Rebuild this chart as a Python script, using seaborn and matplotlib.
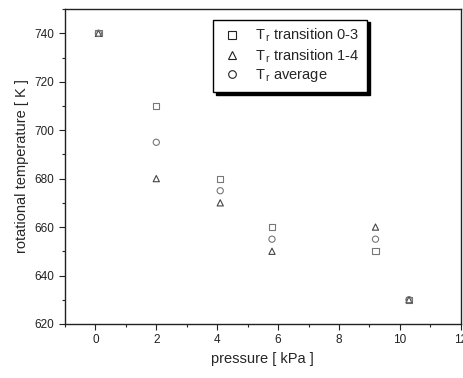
import numpy as np
import pandas as pd
import matplotlib
matplotlib.use("Agg")
import matplotlib.pyplot as plt
import seaborn as sns
from matplotlib.ticker import MultipleLocator

pressure = [0.1, 2.0, 4.1, 5.8, 9.2, 10.3]
t_transition_03 = [740, 710, 680, 660, 650, 630]
t_transition_14 = [740, 680, 670, 650, 660, 630]
t_average = [740, 695, 675, 655, 655, 630]

series_labels = [
    r"T$_{\,r}$ transition 0-3",
    r"T$_{\,r}$ transition 1-4",
    r"T$_{\,r}$ average",
]
series_values = [t_transition_03, t_transition_14, t_average]
series_markers = ["s", "^", "o"]
series_edges = ["#777777", "#444444", "#777777"]

sns.set_theme(style="ticks")
plt.rcParams["font.family"] = ["Liberation Sans", "DejaVu Sans"]
plt.rcParams["mathtext.fontset"] = "custom"
plt.rcParams["mathtext.rm"] = "Liberation Sans"
plt.rcParams["mathtext.it"] = "Liberation Sans"

fig = plt.figure(figsize=(4.64, 3.78), dpi=100)
ax = fig.add_axes([0.140, 0.143, 0.853, 0.833])

for label, values, marker, edge in zip(series_labels, series_values, series_markers, series_edges):
    frame = pd.DataFrame({"pressure": pressure, "temperature": values})
    sns.scatterplot(
        data=frame,
        x="pressure",
        y="temperature",
        marker=marker,
        facecolor="none",
        edgecolor=edge,
        linewidth=0.8,
        s=20,
        ax=ax,
    )

handles = [
    plt.Line2D([], [], linestyle="none", marker=m, markersize=5.5,
               markerfacecolor="none", markeredgecolor="#222222", markeredgewidth=0.8)
    for m in series_markers
]
ax.legend(
    handles,
    series_labels,
    loc="upper left",
    bbox_to_anchor=(0.355, 0.99),
    frameon=True,
    fancybox=False,
    edgecolor="black",
    framealpha=1,
    shadow={"color": "black", "alpha": 1},
    fontsize=10.5,
    handletextpad=0.8,
    borderpad=0.5,
    labelspacing=0.2,
    handlelength=1.6,
)

ax.set_xlim(-1, 12)
ax.set_ylim(620, 750)
ax.xaxis.set_major_locator(MultipleLocator(2))
ax.xaxis.set_minor_locator(MultipleLocator(1))
ax.yaxis.set_minor_locator(MultipleLocator(10))
ax.set_yticks([620, 640, 660, 680, 700, 720, 740])
ax.tick_params(which="major", direction="out", length=4, width=0.8, labelsize=8.5, colors="#222222")
ax.tick_params(which="minor", direction="out", length=2.5, width=0.8)
for spine in ax.spines.values():
    spine.set_linewidth(1.0)
    spine.set_color("#222222")

ax.set_xlabel("pressure [ kPa ]", fontsize=10.5, labelpad=4)
ax.set_ylabel("rotational temperature [ K ]", fontsize=10.5, labelpad=4)

fig.savefig("out.png", dpi=100)
